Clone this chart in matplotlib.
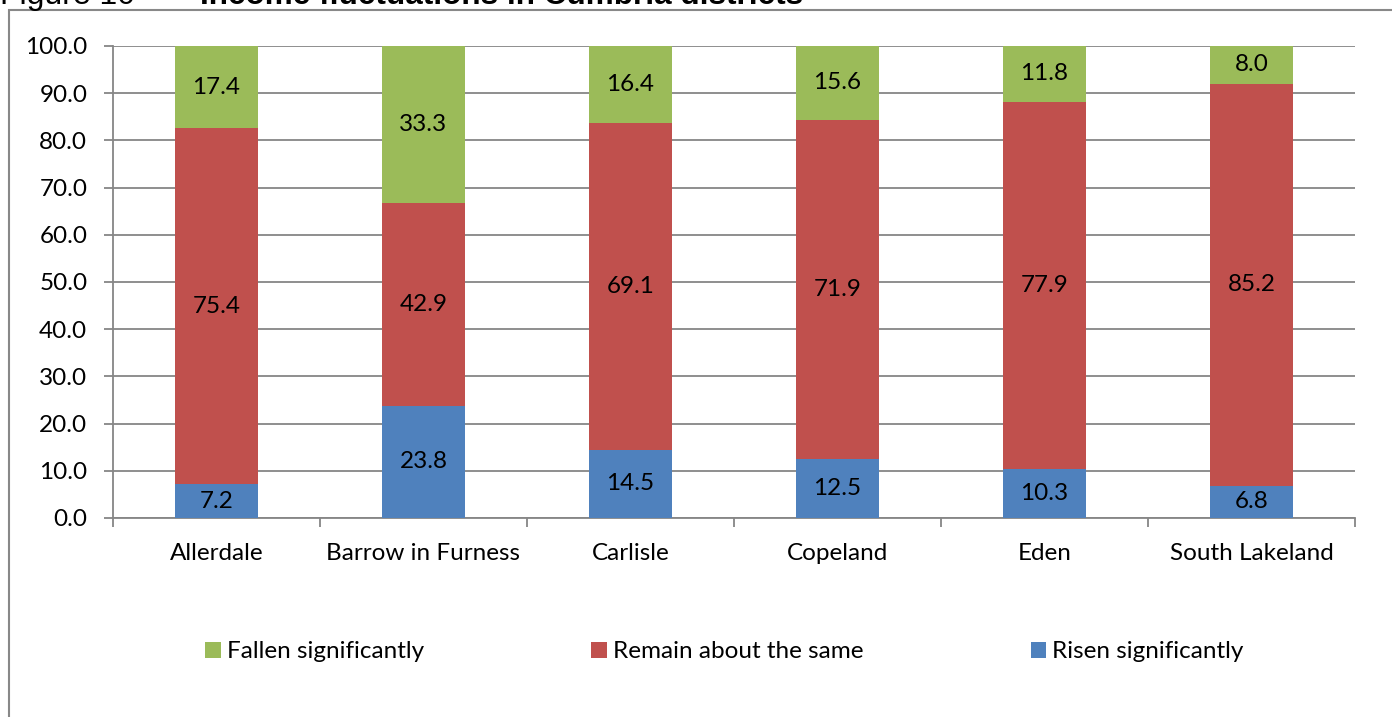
import matplotlib
matplotlib.use("Agg")
import matplotlib.pyplot as plt
from matplotlib.patches import Rectangle
import numpy as np

plt.rcParams['font.family'] = ['Lato', 'DejaVu Sans']

districts = ["Allerdale", "Barrow in Furness", "Carlisle", "Copeland", "Eden", "South Lakeland"]
risen = [7.2, 23.8, 14.5, 12.5, 10.3, 6.8]
same = [75.4, 42.9, 69.1, 71.9, 77.9, 85.2]
fallen = [17.4, 33.3, 16.4, 15.6, 11.8, 8.0]
y_ticks = [0, 10, 20, 30, 40, 50, 60, 70, 80, 90, 100]

c_risen = "#4F81BD"
c_same = "#C0504D"
c_fallen = "#9BBB59"

W, H = 1392, 717
fig = plt.figure(figsize=(W / 100, H / 100), dpi=100)

# outer chart frame
fig.patches.append(Rectangle((9 / W, -0.05), 1.2, 1 - 9.5 / H + 0.05,
                             transform=fig.transFigure, fill=False,
                             edgecolor="#888888", linewidth=1.5))

# heading (sits at the very top edge)
fig.text(0 / W, 1 - 4 / H, "Figure 10", fontsize=23, family="Liberation Sans",
         va="baseline", ha="left")
fig.text(200 / W, 1 - 4 / H, "Income fluctuations in Cumbria districts", fontsize=22.7,
         family="Liberation Sans", fontweight="bold", va="baseline", ha="left")

ax = fig.add_axes([113 / W, 1 - 518 / H, (1355 - 113) / W, (518 - 46) / H])
x = np.arange(len(districts))
bw = 0.4
risen_a = np.array(risen)
same_a = np.array(same)
fallen_a = np.array(fallen)

b1 = ax.bar(x, risen_a, bw, color=c_risen, label="Risen significantly", zorder=3)
b2 = ax.bar(x, same_a, bw, bottom=risen_a, color=c_same, label="Remain about the same", zorder=3)
b3 = ax.bar(x, fallen_a, bw, bottom=risen_a + same_a, color=c_fallen, label="Fallen significantly", zorder=3)

for vals, bottoms in [(risen_a, np.zeros(6)), (same_a, risen_a), (fallen_a, risen_a + same_a)]:
    for xi, v, b in zip(x, vals, bottoms):
        ax.text(xi, b + v / 2, f"{v:.1f}", ha="center", va="center", fontsize=17.5, zorder=4)

ax.set_xlim(-0.5, len(districts) - 0.5)
ax.set_ylim(0, 100)
ax.set_yticks(y_ticks)
ax.set_yticklabels([f"{t:.1f}" for t in y_ticks], fontsize=17.5)
ax.set_xticks(x)
ax.set_xticklabels(districts, fontsize=17.5)
ax.set_xticks(np.arange(-0.5, len(districts)), minor=True)
ax.tick_params(axis="x", which="major", length=0, pad=18)
ax.tick_params(axis="x", which="minor", length=6.5, color="#868686", width=1.3)
ax.tick_params(axis="y", length=6.5, color="#868686", width=1.3, pad=12)
ax.yaxis.grid(True, color="#868686", linewidth=1.3, zorder=0)
for s in ["top", "right"]:
    ax.spines[s].set_visible(False)
for s in ["left", "bottom"]:
    ax.spines[s].set_color("#868686")
    ax.spines[s].set_linewidth(1.3)

handles = [b3, b2, b1]
fig.legend(handles, [h.get_label() for h in handles], loc="center",
           bbox_to_anchor=(0.5205, 1 - 652 / H), ncol=3, frameon=False, fontsize=17.5,
           handlelength=0.65, handleheight=0.65, handletextpad=0.25, columnspacing=6.87)

fig.savefig("out.png", dpi=100)
